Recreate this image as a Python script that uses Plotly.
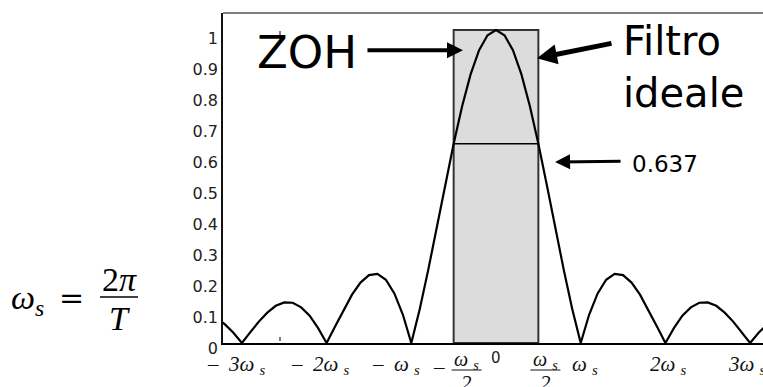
import plotly.graph_objects as go

# ---------------- data ----------------
omega = [-3.3, -3.2, -3.1, -3.0, -2.9, -2.8, -2.7, -2.6, -2.5, -2.4, -2.3, -2.2, -2.1,
         -2.0, -1.9, -1.8, -1.7, -1.6, -1.5, -1.4, -1.3, -1.2, -1.1,
         -1.0, -0.9, -0.8, -0.7, -0.6, -0.5, -0.4, -0.3, -0.2, -0.1,
         0.0, 0.1, 0.2, 0.3, 0.4, 0.5, 0.6, 0.7, 0.8, 0.9,
         1.0, 1.1, 1.2, 1.3, 1.4, 1.5, 1.6, 1.7, 1.8, 1.9,
         2.0, 2.1, 2.2, 2.3, 2.4, 2.5, 2.6, 2.7, 2.8, 2.9,
         3.0, 3.1, 3.2, 3.3]
magnitude = [0.080, 0.060, 0.033, 0.000, 0.035, 0.069, 0.098, 0.120, 0.131, 0.130, 0.115, 0.088, 0.048,
             0.000, 0.053, 0.107, 0.156, 0.195, 0.219, 0.223, 0.204, 0.160, 0.092,
             0.000, 0.110, 0.236, 0.372, 0.510, 0.643, 0.764, 0.867, 0.945, 0.993,
             1.010, 0.993, 0.945, 0.867, 0.764, 0.643, 0.510, 0.372, 0.236, 0.110,
             0.000, 0.092, 0.160, 0.204, 0.223, 0.219, 0.195, 0.156, 0.107, 0.053,
             0.000, 0.048, 0.088, 0.115, 0.130, 0.131, 0.120, 0.098, 0.069, 0.035,
             0.000, 0.033, 0.060, 0.080]

ideal_center = [0.0]
ideal_width = [1.0]
ideal_gain = [1.01]

half_band_x = [-0.5, 0.5]
half_band_y = [0.643, 0.643]

y_ticks = [0.0, 0.1, 0.2, 0.3, 0.4, 0.5, 0.6, 0.7, 0.8, 0.9, 1.0]
y_tick_text = ["0", "0.1", "0.2", "0.3", "0.4", "0.5", "0.6", "0.7", "0.8", "0.9", "1"]

x_ticks = [-3, -2, -1, 1, 2, 3]
x_tick_text = ["–  3ω", "–  2ω", "–  ω", "ω", "2ω", "3ω"]
x_tick_shift = [-5, -6, -15, 4, 3, -3]

frac_ticks = [-0.5, 0.5]
frac_sign = ["–", ""]
frac_shift = [13, 7]

stray_tick_x = [-2.55]

# ---------------- geometry ----------------
W, H = 763, 387
L, R, T, B = 223, 0, 13, 44
X_RANGE = [-3.223, 3.152]
Y_RANGE = [0.0, 1.065]
PW = W - L - R
PH = H - T - B


def px_x(px):
    return (px - L) / PW


def px_y(py):
    return (H - B - py) / PH


def data_px(x):
    return L + (x - X_RANGE[0]) / (X_RANGE[1] - X_RANGE[0]) * PW


SERIF = "Liberation Serif"
SANS = "DejaVu Sans"

fig = go.Figure()
fig.add_trace(go.Bar(x=ideal_center, y=ideal_gain, width=ideal_width,
                     marker=dict(color="#dcdcdc", line=dict(color="#333333", width=2)),
                     hoverinfo="skip", showlegend=False))
fig.add_trace(go.Scatter(x=half_band_x, y=half_band_y, mode="lines",
                         line=dict(color="black", width=1.5), hoverinfo="skip", showlegend=False))
fig.add_trace(go.Scatter(x=omega, y=magnitude, mode="lines",
                         line=dict(color="black", width=2.2), hoverinfo="skip", showlegend=False))

ann = []
shapes = []

# x tick labels
for v, t, s in zip(x_ticks, x_tick_text, x_tick_shift):
    ann.append(dict(x=v, xref="x", y=px_y(365), yref="paper", xshift=s,
                    text=f"<i>{t} <sub>s</sub></i>", showarrow=False,
                    font=dict(family=SERIF, size=21, color="#111"),
                    xanchor="center", yanchor="middle"))

# fraction labels
for v, sign, s in zip(frac_ticks, frac_sign, frac_shift):
    c = data_px(v) + s
    ann.append(dict(x=px_x(c), xref="paper", y=px_y(361), yref="paper",
                    text="<i>ω <sub>s</sub></i>", showarrow=False,
                    font=dict(family=SERIF, size=20, color="#111"),
                    xanchor="center", yanchor="middle"))
    ann.append(dict(x=px_x(c), xref="paper", y=px_y(383), yref="paper",
                    text="<i>2</i>", showarrow=False,
                    font=dict(family=SERIF, size=21, color="#111"),
                    xanchor="center", yanchor="middle"))
    shapes.append(dict(type="line", xref="paper", yref="paper",
                       x0=px_x(c - 15), x1=px_x(c + 15), y0=px_y(370), y1=px_y(370),
                       line=dict(color="#111", width=1)))
    if sign:
        ann.append(dict(x=px_x(c - 28), xref="paper", y=px_y(367), yref="paper",
                        text=f"<i>{sign}</i>", showarrow=False,
                        font=dict(family=SERIF, size=21, color="#111"),
                        xanchor="center", yanchor="middle"))

# "0" label at origin
ann.append(dict(x=0, xref="x", y=px_y(358), yref="paper", text="0", showarrow=False,
                font=dict(family=SANS, size=15, color="#222"), xanchor="center", yanchor="middle"))

# small stray tick marks seen in the original
for v in stray_tick_x:
    shapes.append(dict(type="line", xref="x", yref="paper", x0=v, x1=v,
                       y0=px_y(341), y1=px_y(337), line=dict(color="black", width=1)))
    shapes.append(dict(type="line", xref="x", yref="paper", x0=v, x1=v,
                       y0=px_y(35), y1=px_y(31), line=dict(color="black", width=1)))

# text labels with arrows
ann.append(dict(x=-2.231, y=0.937, xref="x", yref="y", text="ZOH", showarrow=False,
                font=dict(family=SANS, size=45, color="black"), xanchor="center", yanchor="middle"))
ann.append(dict(x=-0.39, y=0.945, xref="x", yref="y", ax=-1.535, ay=0.945, axref="x", ayref="y",
                text="", showarrow=True, arrowhead=2, arrowsize=0.8, arrowwidth=4, arrowcolor="black"))

ann.append(dict(x=1.47, y=0.89, xref="x", yref="y", text="Filtro<br>ideale", showarrow=False,
                align="left", font=dict(family=SANS, size=40, color="black"),
                xanchor="left", yanchor="middle"))
ann.append(dict(x=0.484, y=0.919, xref="x", yref="y", ax=1.381, ay=0.968, axref="x", ayref="y",
                text="", showarrow=True, arrowhead=2, arrowsize=0.8, arrowwidth=5, arrowcolor="black"))

ann.append(dict(x=1.583, y=0.577, xref="x", yref="y", text="0.637", showarrow=False,
                font=dict(family=SANS, size=23, color="black"), xanchor="left", yanchor="middle"))
ann.append(dict(x=0.697, y=0.584, xref="x", yref="y", ax=1.488, ay=0.587, axref="x", ayref="y",
                text="", showarrow=True, arrowhead=2, arrowsize=1, arrowwidth=3, arrowcolor="black"))

# formula  ω_s = 2π / T
ann.append(dict(x=px_x(9), xref="paper", y=px_y(300), yref="paper",
                text="<i>ω<sub>s</sub></i>", showarrow=False,
                font=dict(family=SERIF, size=34, color="black"), xanchor="left", yanchor="middle"))
ann.append(dict(x=px_x(71), xref="paper", y=px_y(297), yref="paper",
                text="=", showarrow=False,
                font=dict(family="DejaVu Serif", size=30, color="black"), xanchor="center", yanchor="middle"))
ann.append(dict(x=px_x(119), xref="paper", y=px_y(279), yref="paper",
                text="2<i>π</i>", showarrow=False,
                font=dict(family=SERIF, size=34, color="black"), xanchor="center", yanchor="middle"))
ann.append(dict(x=px_x(119), xref="paper", y=px_y(318), yref="paper",
                text="<i>T</i>", showarrow=False,
                font=dict(family=SERIF, size=34, color="black"), xanchor="center", yanchor="middle"))
shapes.append(dict(type="line", xref="paper", yref="paper",
                   x0=px_x(100), x1=px_x(138), y0=px_y(297), y1=px_y(297),
                   line=dict(color="black", width=1.5)))

# top frame line
shapes.append(dict(type="line", xref="paper", yref="paper", x0=0, x1=1, y0=1, y1=1,
                   line=dict(color="#555555", width=1.5)))

fig.update_layout(
    width=W, height=H,
    margin=dict(l=L, r=R, t=T, b=B, pad=0),
    paper_bgcolor="white", plot_bgcolor="white",
    showlegend=False,
    annotations=ann, shapes=shapes,
    xaxis=dict(range=X_RANGE, showline=True, linecolor="black", linewidth=2,
               showticklabels=False, ticks="", showgrid=False, zeroline=False, fixedrange=True),
    yaxis=dict(range=Y_RANGE, tickvals=y_ticks, ticktext=y_tick_text, showline=True,
               linecolor="#111", linewidth=1.5, ticks="", showgrid=False, zeroline=False,
               tickfont=dict(family=SANS, size=16, color="#222"),
               ticklabelshift=5, ticklabelstandoff=0, fixedrange=True),
)

fig.write_html("out.html", config={"displayModeBar": False})
